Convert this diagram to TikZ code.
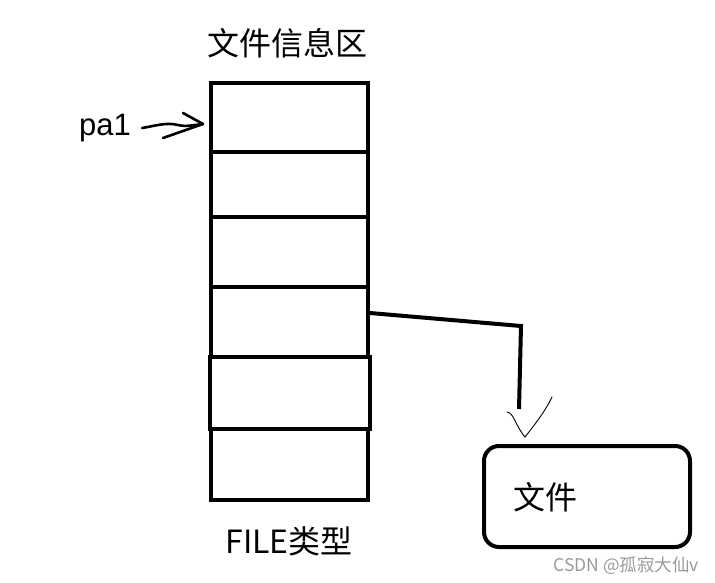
\documentclass[tikz,border=0pt]{standalone}
\usepackage{fontspec}
\setmainfont{Liberation Sans}
\newfontfamily\cjk{Noto Sans CJK SC}
\begin{document}
\begin{tikzpicture}[x=1pt,y=-1pt,
  cell/.style={draw,line width=4pt,minimum width=157pt,inner sep=0pt},
  bigtext/.style={font=\cjk\fontsize{32}{32}\selectfont,inner sep=0pt},
  hand/.style={line width=2.6pt,line cap=round,line join=round},
  thin/.style={line width=0.9pt,line cap=round,line join=round}]
\useasboundingbox (0,0) rectangle (715,583);
% stack of cells
\node[cell,minimum height=69pt] (r1) at (289.5,117.5) {};
\node[cell,minimum height=65pt] (r2) at (289.5,184.5) {};
\node[cell,minimum height=70pt] (r3) at (289.5,252) {};
\node[cell,minimum height=70pt] (r4) at (289.5,322) {};
\node[cell,minimum height=72pt,minimum width=160pt] (r5) at (289.5,393) {};
\node[cell,minimum height=71pt] (r6) at (289.5,464.5) {};
% labels
\node[bigtext] (title) at (287,43) {文件信息区};
\node[bigtext] (type) at (289,541) {FILE类型};
\node[font=\fontsize{31}{31}\selectfont,inner sep=0pt] (pa1) at (105,128) {pa1};
% pa1 arrow
\coordinate (tip) at (203,124);
\draw[hand] ([xshift=11pt]pa1.east) .. controls (155,126) and (166,122) .. (178,125)
  .. controls (186,127) and (194,125) .. (tip);
\draw[hand] (183,113) -- (tip) -- (163,138);
% file box
\node[draw,line width=4pt,rounded corners=15pt,minimum width=206pt,minimum height=101pt] (file) at (587,496.5) {};
\node[bigtext] (filetext) at (545,497) {文件};
% connector
\coordinate (bend) at (521,326);
\coordinate (end) at (519,409);
\coordinate (vtip) at (525,437);
\draw[line width=4pt,line join=miter] ([yshift=9pt]r4.east) -- (bend) -- (end);
\draw[thin] (507,412) .. controls (514,413) and (515,425) .. (vtip)
  .. controls (532,428) and (545,412) .. (552,397);
% watermark
\node[font=\cjk\fontsize{17.5}{17.5}\selectfont,text=black!40,inner sep=0pt,anchor=east] (wm) at (699,566) {CSDN @孤寂大仙v};
\end{tikzpicture}
\end{document}
